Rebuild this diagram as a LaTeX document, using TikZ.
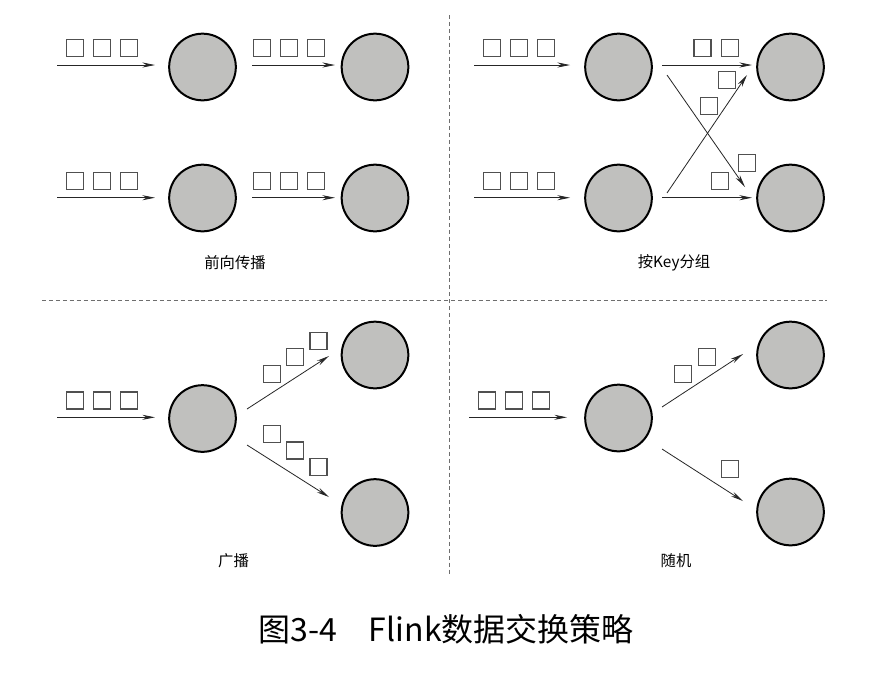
\documentclass[tikz,border=0pt]{standalone}
\usepackage{fontspec}
\newfontfamily\cjk{Noto Sans CJK SC}
\usetikzlibrary{arrows.meta}
\definecolor{opgray}{RGB}{192,192,190}
\definecolor{recgray}{RGB}{80,80,80}
\definecolor{sepgray}{RGB}{110,110,110}
\tikzset{
  op/.style={circle, draw=black, line width=1.5pt, fill=opgray, minimum size=50pt, inner sep=0pt},
  rec/.style={rectangle, draw=recgray, line width=0.85pt, minimum size=12.8pt, inner sep=0pt, fill=white},
  arr/.style={-{Stealth[length=9.5pt,width=3.8pt]}, line width=0.6pt, draw=black!85},
  sepline/.style={draw=sepgray, line width=0.6pt, dash pattern=on 3pt off 2.2pt},
  lab/.style={font=\cjk\fontsize{11.5pt}{13pt}\selectfont, inner sep=0pt},
  captext/.style={font=\cjk\fontsize{24pt}{27pt}\selectfont, inner sep=0pt}
}
\begin{document}
\begin{tikzpicture}[x=0.75pt,y=-0.75pt]
\useasboundingbox[fill=white] (0,0) rectangle (887,679);

% separators
\coordinate (vt) at (449,15);
\coordinate (vb) at (449,576);
\coordinate (hl) at (42,300);
\coordinate (hr) at (827,300);
\draw[sepline] (vt) -- (vb);
\draw[sepline] (hl) -- (hr);

% ---------- Q1: forward ----------
\node[op] (f1a) at (202.5,67) {};
\node[op] (f1b) at (375,67) {};
\node[op] (f2a) at (202.5,198) {};
\node[op] (f2b) at (375,198) {};
\coordinate (fs1) at (57,65);
\coordinate (fs2) at (57,197.7);
\coordinate (fe1) at (155,65);
\coordinate (fe2) at (155,197.7);
\coordinate (fm1s) at (252,65);
\coordinate (fm1e) at (335,65);
\coordinate (fm2s) at (252,197.7);
\coordinate (fm2e) at (335,197.7);
\draw[arr] (fs1) -- (fe1);
\draw[arr] (fs2) -- (fe2);
\draw[arr] (fm1s) -- (fm1e);
\draw[arr] (fm2s) -- (fm2e);
\foreach \x [count=\i] in {75,102,129} {
  \node[rec] (fr1\i) at (\x,48) {};
  \node[rec] (fr3\i) at (\x,181) {};
}
\foreach \x [count=\i] in {262,289,316} {
  \node[rec] (fr2\i) at (\x,48) {};
  \node[rec] (fr4\i) at (\x,181) {};
}
\node[lab] (flab) at (235,263) {前向传播};

% ---------- Q2: key by ----------
\node[op] (k1a) at (618.5,67) {};
\node[op] (k1b) at (790.5,67) {};
\node[op] (k2a) at (618.5,198) {};
\node[op] (k2b) at (790.5,198) {};
\coordinate (ks1) at (474,65);
\coordinate (ke1) at (570,65);
\coordinate (ks2) at (474,197.7);
\coordinate (ke2) at (570,197.7);
\coordinate (km1s) at (662,65);
\coordinate (km1e) at (752,65);
\coordinate (km2s) at (662,197.7);
\coordinate (km2e) at (752,197.7);
\coordinate (kx1s) at (667,75);
\coordinate (kx1e) at (745,187);
\coordinate (kx2s) at (667,193);
\coordinate (kx2e) at (747,75);
\draw[arr] (ks1) -- (ke1);
\draw[arr] (ks2) -- (ke2);
\draw[arr] (km1s) -- (km1e);
\draw[arr] (km2s) -- (km2e);
\draw[arr] (kx1s) -- (kx1e);
\draw[arr] (kx2s) -- (kx2e);
\foreach \x [count=\i] in {492,519,546} {
  \node[rec] (kr1\i) at (\x,48) {};
  \node[rec] (kr3\i) at (\x,181) {};
}
\node[rec] (kq1) at (702.5,48) {};
\node[rec] (kq2) at (730,48) {};
\node[rec] (kq3) at (727,80) {};
\node[rec] (kq4) at (709,106) {};
\node[rec] (kq5) at (720,181) {};
\node[rec] (kq6) at (747,163) {};
\node[lab] (klab) at (674,263) {按Key分组};

% ---------- Q3: broadcast ----------
\node[op] (b0) at (202.5,418.5) {};
\node[op] (b1) at (375,355) {};
\node[op] (b2) at (375,512.5) {};
\coordinate (bs) at (57,417.3);
\coordinate (be) at (155,417.3);
\coordinate (bu1) at (247,409);
\coordinate (bu2) at (329,356);
\coordinate (bd1) at (247,445);
\coordinate (bd2) at (329,497);
\draw[arr] (bs) -- (be);
\draw[arr] (bu1) -- (bu2);
\draw[arr] (bd1) -- (bd2);
\foreach \x [count=\i] in {75,102,129} {
  \node[rec] (br\i) at (\x,400.5) {};
}
\node[rec] (bq1) at (272,374) {};
\node[rec] (bq2) at (295,357) {};
\node[rec] (bq3) at (318.5,341) {};
\node[rec] (bq4) at (272,434) {};
\node[rec] (bq5) at (295,450.5) {};
\node[rec] (bq6) at (318.5,467) {};
\node[lab] (blab) at (233.5,561) {广播};

% ---------- Q4: random ----------
\node[op] (r0) at (618.5,418) {};
\node[op] (r1) at (790.5,355) {};
\node[op] (r2) at (790.5,512) {};
\coordinate (rs) at (469,417.3);
\coordinate (re) at (567,417.3);
\coordinate (ru1) at (662,407);
\coordinate (ru2) at (743,354);
\coordinate (rd1) at (662,449);
\coordinate (rd2) at (743,501);
\draw[arr] (rs) -- (re);
\draw[arr] (ru1) -- (ru2);
\draw[arr] (rd1) -- (rd2);
\foreach \x [count=\i] in {487,514,541} {
  \node[rec] (rr\i) at (\x,400.5) {};
}
\node[rec] (rq1) at (683.3,374) {};
\node[rec] (rq2) at (707,357) {};
\node[rec] (rq3) at (730,469) {};
\node[lab] (rlab) at (676,561) {随机};

% caption
\node[captext] (caption) at (446,629) {图3-4\hspace{1em}Flink数据交换策略};
\end{tikzpicture}
\end{document}
